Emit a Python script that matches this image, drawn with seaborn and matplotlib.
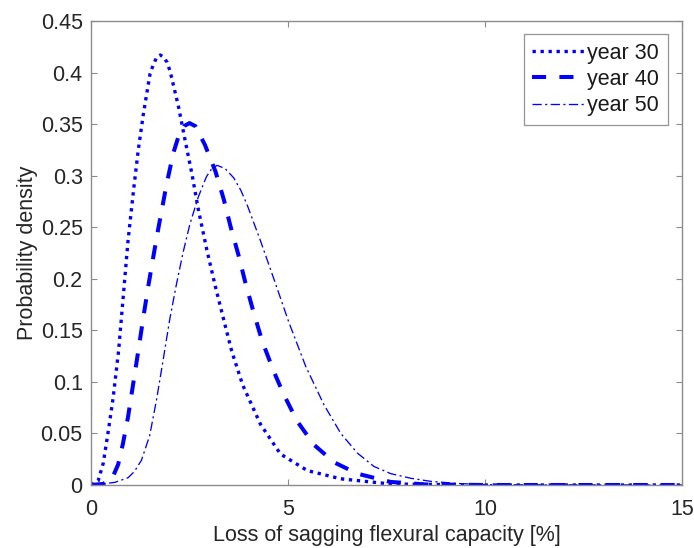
import matplotlib
matplotlib.use("Agg")
import matplotlib.pyplot as plt
import seaborn as sns
import pandas as pd

# ---- data ----
labels = ["year 30", "year 40", "year 50"]

x30 = [0.0, 0.18, 0.31, 0.43, 0.56, 0.70, 0.81, 0.94, 1.08, 1.20, 1.33, 1.50, 1.585, 1.67, 1.76, 1.84,
       1.93, 2.01, 2.22, 2.39, 2.56, 2.72, 2.94, 3.16, 3.37, 3.57, 3.85, 4.30, 4.81, 5.49, 6.34, 7.60,
       10.0, 15.0]
y30 = [0.0, 0.004, 0.021, 0.050, 0.084, 0.130, 0.179, 0.237, 0.286, 0.325, 0.360, 0.399, 0.408, 0.415,
       0.417, 0.415, 0.410, 0.401, 0.367, 0.334, 0.302, 0.268, 0.228, 0.192, 0.160, 0.130, 0.097, 0.059,
       0.030, 0.014, 0.006, 0.001, 0.0, 0.0]

x40 = [0.0, 0.30, 0.52, 0.69, 0.81, 0.94, 1.07, 1.20, 1.33, 1.45, 1.58, 1.70, 1.92, 2.09, 2.22, 2.36,
       2.50, 2.65, 2.89, 3.16, 3.37, 3.54, 3.75, 3.92, 4.13, 4.35, 4.64, 4.89, 5.23, 5.66, 6.17, 6.76,
       7.60, 8.50, 10.0, 15.0]
y40 = [0.0, 0.001, 0.005, 0.020, 0.040, 0.066, 0.098, 0.130, 0.163, 0.192, 0.221, 0.247, 0.292, 0.322,
       0.338, 0.348, 0.351, 0.348, 0.330, 0.304, 0.277, 0.251, 0.222, 0.196, 0.167, 0.139, 0.110, 0.088,
       0.062, 0.039, 0.022, 0.011, 0.003, 0.0005, 0.0, 0.0]

x50 = [0.0, 0.60, 0.94, 1.10, 1.28, 1.49, 1.66, 1.83, 2.00, 2.17, 2.34, 2.51, 2.72, 2.93, 3.05, 3.20,
       3.40, 3.62, 3.80, 3.96, 4.30, 4.64, 5.02, 5.45, 5.91, 6.34, 6.76, 7.18, 7.61, 8.12, 8.63, 9.30,
       10.0, 15.0]
y50 = [0.0, 0.0025, 0.007, 0.013, 0.024, 0.048, 0.082, 0.121, 0.161, 0.195, 0.226, 0.253, 0.279, 0.299,
       0.306, 0.310, 0.307, 0.298, 0.286, 0.272, 0.237, 0.200, 0.158, 0.115, 0.078, 0.050, 0.031, 0.018,
       0.011, 0.0065, 0.0035, 0.0015, 0.0003, 0.0]

xticks = [0, 5, 10, 15]
yticks = [0, 0.05, 0.1, 0.15, 0.2, 0.25, 0.3, 0.35, 0.4, 0.45]
ytick_labels = ["0", "0.05", "0.1", "0.15", "0.2", "0.25", "0.3", "0.35", "0.4", "0.45"]

# ---- style ----
sns.set_style("white")
plt.rcParams["font.family"] = ["Liberation Sans", "DejaVu Sans"]
plt.rcParams["lines.dash_capstyle"] = "butt"

FS = 15.5
fig = plt.figure(figsize=(6.94, 5.48), dpi=100)
ax = fig.add_axes([91 / 694, 1 - 485 / 548, (682 - 91) / 694, (485 - 21) / 548])

series = [(x30, y30), (x40, y40), (x50, y50)]
widths = [2.4, 2.9, 0.95]
patterns = [(1.0, 1.4), (3.5, 3.3), (7.0, 2.6, 1.6, 2.6)]

for (xs, ys), lab, lw, pat in zip(series, labels, widths, patterns):
    df = pd.DataFrame({"x": xs, "y": ys})
    sns.lineplot(data=df, x="x", y="y", ax=ax, color="#0000ff", lw=lw,
                 estimator=None, sort=False, label=lab)
    ln = ax.lines[-1]
    ln.set_dashes(pat)
    ln.set_dash_capstyle("butt")
    ln.set_solid_joinstyle("round")
    ln.set_dash_joinstyle("round")

ax.set_xlim(0, 15)
ax.set_ylim(0, 0.45)
ax.set_xticks(xticks)
ax.set_xticklabels([str(t) for t in xticks])
ax.set_yticks(yticks)
ax.set_yticklabels(ytick_labels)

gray = "#8c8c8c"
for sp in ax.spines.values():
    sp.set_visible(True)
    sp.set_color(gray)
    sp.set_linewidth(1.0)
ax.tick_params(axis="both", which="both", direction="in", length=4.5, width=0.8,
               color=gray, labelsize=FS, labelcolor="#262626",
               top=True, right=True, bottom=True, left=True)
ax.tick_params(axis="x", pad=10)
ax.tick_params(axis="y", pad=6)

ax.set_xlabel("Loss of sagging flexural capacity [%]", fontsize=FS, color="#262626")
ax.set_ylabel("Probability density", fontsize=FS, color="#262626")
ax.xaxis.set_label_coords(0.5, -0.086)
ax.yaxis.set_label_coords(-0.09, 0.5)

leg = ax.legend(loc="upper right", bbox_to_anchor=(0.976, 0.972), fontsize=FS,
                handlelength=2.4, handletextpad=0.15, labelspacing=0.25,
                borderpad=0.4, borderaxespad=0.0, frameon=True, fancybox=False)
leg.get_frame().set_edgecolor("#7a7a7a")
leg.get_frame().set_linewidth(0.9)
for t in leg.get_texts():
    t.set_color("#1a1a1a")

fig.savefig("out.png", dpi=100)
